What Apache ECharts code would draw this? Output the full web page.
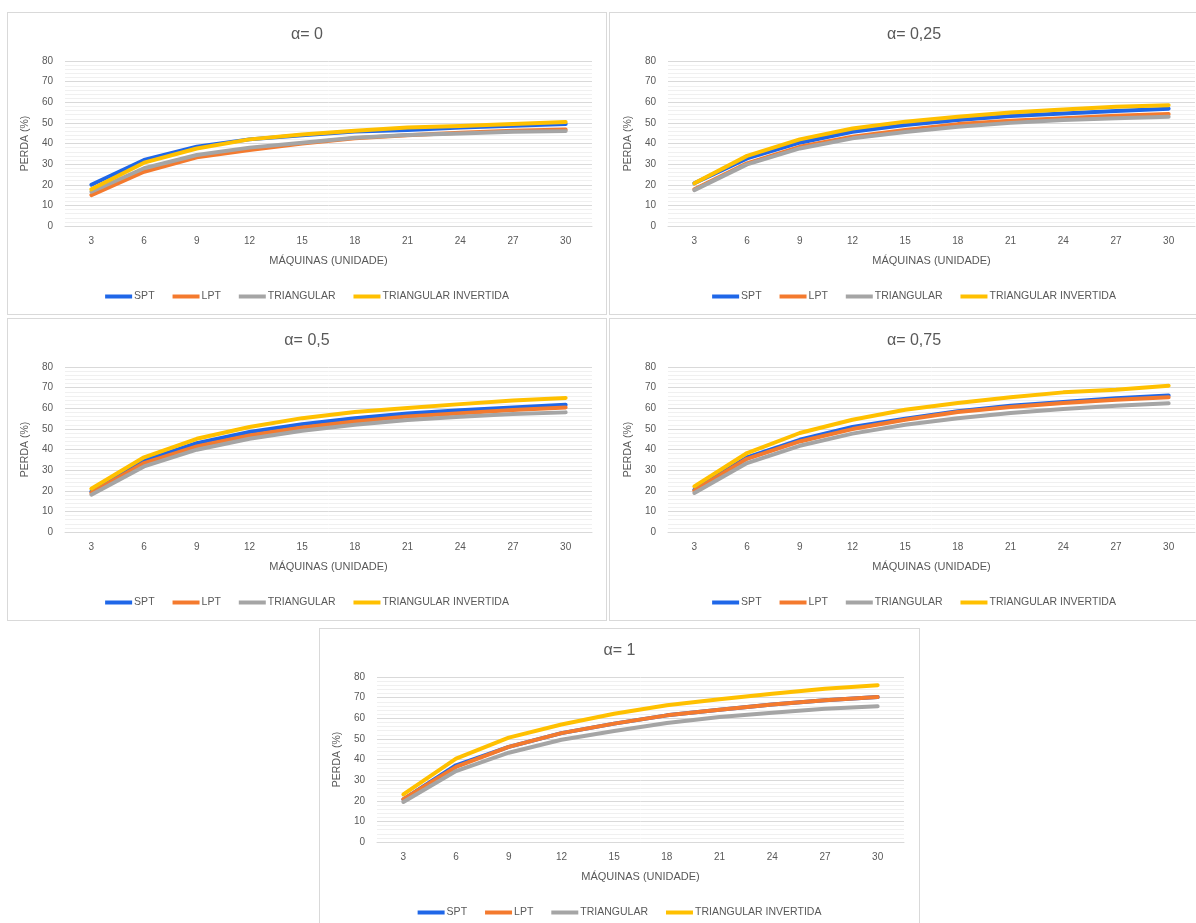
<!DOCTYPE html>
<html>
<head>
<meta charset="utf-8">
<script src="https://cdn.jsdelivr.net/npm/echarts@6/dist/echarts.min.js"></script>
<style>
  html, body { margin: 0; padding: 0; background: #ffffff; width: 1196px; height: 923px; overflow: hidden; }
  .panel { position: absolute; border: 1px solid #d9d9d9; background: #fff; box-sizing: border-box; }
</style>
</head>
<body>
<div id="p1" class="panel" style="left:7px;top:12px;width:600px;height:303px;"></div>
<div id="p2" class="panel" style="left:609px;top:12px;width:610px;height:303px;"></div>
<div id="p3" class="panel" style="left:7px;top:318px;width:600px;height:303px;"></div>
<div id="p4" class="panel" style="left:609px;top:318px;width:610px;height:303px;"></div>
<div id="p5" class="panel" style="left:319px;top:628px;width:601px;height:310px;"></div>
<script>
// ---- data ----
const categories = ['3', '6', '9', '12', '15', '18', '21', '24', '27', '30'];
const seriesNames = ['SPT', 'LPT', 'TRIANGULAR', 'TRIANGULAR INVERTIDA'];
const titles = ['α= 0', 'α= 0,25', 'α= 0,5', 'α= 0,75', 'α= 1'];

// alpha = 0
const spt0 = [20.0, 32.0, 38.4, 42.0, 44.0, 45.8, 46.5, 47.7, 48.6, 49.4];
const lpt0 = [15.0, 26.3, 33.3, 36.8, 40.0, 42.5, 44.0, 45.2, 46.2, 46.8];
const tri0 = [16.6, 28.0, 34.4, 38.0, 40.4, 42.8, 44.1, 44.9, 45.7, 46.0];
const inv0 = [17.8, 30.7, 37.6, 42.0, 44.4, 46.2, 47.7, 48.5, 49.4, 50.4];

// alpha = 0.25
const spt25 = [20.7, 32.8, 40.4, 45.7, 49.0, 51.4, 53.3, 54.6, 55.7, 56.9];
const lpt25 = [17.8, 30.4, 38.4, 43.3, 46.5, 49.4, 51.0, 52.3, 53.5, 54.3];
const tri25 = [17.4, 29.9, 37.6, 42.5, 45.6, 48.1, 50.0, 51.4, 52.3, 53.0];
const inv25 = [20.7, 34.0, 42.0, 47.3, 50.6, 53.0, 55.0, 56.5, 57.8, 58.6];

// alpha = 0.5
const spt50 = [19.7, 34.6, 43.1, 48.5, 52.3, 55.2, 57.4, 59.0, 60.4, 61.7];
const lpt50 = [18.9, 33.4, 41.5, 46.8, 50.7, 53.6, 56.0, 57.6, 59.1, 60.4];
const tri50 = [18.1, 31.8, 39.9, 45.2, 49.1, 52.0, 54.3, 55.9, 57.2, 58.0];
const inv50 = [21.0, 36.2, 45.2, 50.9, 55.2, 58.2, 60.1, 62.0, 63.7, 65.0];

// alpha = 0.75
const spt75 = [20.5, 36.2, 44.7, 50.9, 54.9, 58.5, 61.2, 63.0, 64.9, 66.2];
const lpt75 = [20.0, 35.5, 43.9, 49.9, 54.4, 58.2, 60.6, 62.5, 64.1, 65.3];
const tri75 = [18.9, 33.4, 41.8, 47.7, 52.0, 55.2, 57.7, 59.6, 61.2, 62.4];
const inv75 = [22.1, 38.3, 48.0, 54.4, 59.3, 62.5, 65.3, 67.7, 69.0, 70.9];

// alpha = 1
const spt100 = [20.7, 37.2, 46.1, 52.8, 57.4, 61.4, 64.1, 66.7, 68.7, 70.3];
const lpt100 = [20.7, 36.4, 46.1, 52.8, 57.4, 61.4, 64.1, 66.7, 68.7, 70.3];
const tri100 = [19.4, 34.4, 43.3, 49.6, 53.8, 57.7, 60.6, 62.7, 64.6, 65.8];
const inv100 = [23.1, 40.4, 50.6, 57.0, 62.2, 66.3, 69.2, 71.9, 74.3, 76.0];

const yTicks = { min: 0, max: 80, interval: 10 };
const xAxisName = 'MÁQUINAS (UNIDADE)';
const yAxisName = 'PERDA (%)';

// ---- styles ----
const colors = ['#1f67e8', '#f47a2e', '#a5a5a5', '#ffc000'];
const txt = '#595959';
const font = '"Liberation Sans", Arial, sans-serif';

function build(id, title, data, gridLeft) {
  const chart = echarts.init(document.getElementById(id), null, { renderer: 'canvas' });
  chart.setOption({
    animation: false,
    color: colors,
    textStyle: { fontFamily: font },
    title: {
      text: title, left: 'center', top: 9,
      textStyle: { fontSize: 16, fontWeight: 'normal', color: txt, fontFamily: font }
    },
    grid: { left: gridLeft, top: 48, width: 527, height: 165, containLabel: false },
    legend: {
      data: seriesNames, left: 'center', top: 273,
      icon: 'rect', itemWidth: 27, itemHeight: 4, itemGap: 18,
      textStyle: { fontSize: 10.5, color: txt, fontFamily: font, padding: [0, 0, 0, -3] }
    },
    xAxis: {
      type: 'category', data: categories, boundaryGap: true,
      name: xAxisName, nameLocation: 'middle', nameGap: 29,
      nameTextStyle: { fontSize: 11, color: txt, fontFamily: font },
      axisLine: { show: true, lineStyle: { color: '#d9d9d9', width: 1 } },
      axisTick: { show: false },
      axisLabel: { fontSize: 10, color: txt, margin: 10 }
    },
    yAxis: {
      type: 'value', min: yTicks.min, max: yTicks.max, interval: yTicks.interval,
      name: yAxisName, nameLocation: 'middle', nameGap: 29, nameRotate: 90,
      nameTextStyle: { fontSize: 10.5, color: txt, fontFamily: font },
      axisLine: { show: false }, axisTick: { show: false },
      axisLabel: { fontSize: 10, color: txt, margin: 12 },
      splitLine: { show: true, lineStyle: { color: '#d9d9d9', width: 1 } },
      minorTick: { show: false, splitNumber: 5 },
      minorSplitLine: { show: true, lineStyle: { color: '#f0f0f0', width: 1 } }
    },
    series: seriesNames.map((n, i) => ({
      name: n, type: 'line', data: data[i], symbol: 'none',
      lineStyle: { width: 4, cap: 'round', join: 'round' }
    }))
  });
}

build('p1', titles[0], [spt0, lpt0, tri0, inv0], 57);
build('p2', titles[1], [spt25, lpt25, tri25, inv25], 58);
build('p3', titles[2], [spt50, lpt50, tri50, inv50], 57);
build('p4', titles[3], [spt75, lpt75, tri75, inv75], 58);
build('p5', titles[4], [spt100, lpt100, tri100, inv100], 57);
</script>
</body>
</html>
